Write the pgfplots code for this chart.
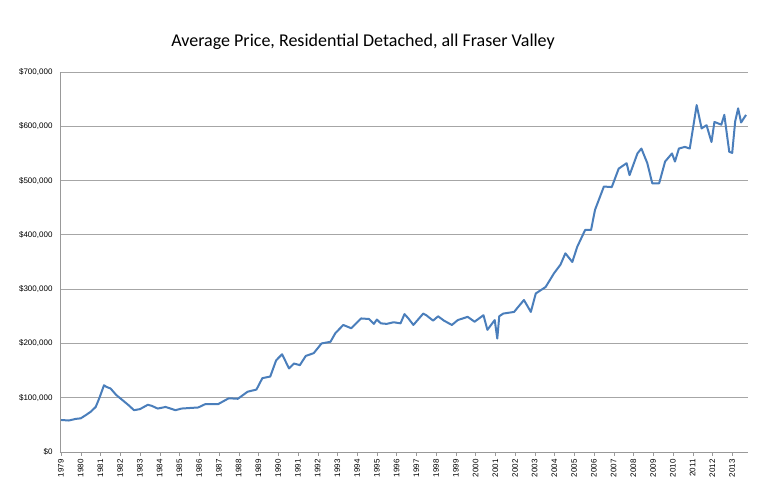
\documentclass[border=0pt]{standalone}
\usepackage{pgfplots}
\pgfplotsset{compat=1.18}
\usepackage{fontspec}
\setmainfont{Liberation Sans}
\newfontfamily\titlefont{Carlito}
\definecolor{ln}{RGB}{74,126,187}
\begin{document}
\begin{tikzpicture}
\begin{axis}[
  scale only axis, width=688pt, height=380pt,
  xmin=1978.95, xmax=2013.8, ymin=0, ymax=700000,
  scaled ticks=false, /pgf/number format/assume math mode=true,
  axis line style={gray!80},
  ytick={0,100000,...,700000},
  yticklabels={{\$0},{\$100,000},{\$200,000},{\$300,000},{\$400,000},{\$500,000},{\$600,000},{\$700,000}},
  xtick={1979,...,2013},
  xticklabel style={rotate=90, anchor=east, font=\fontsize{8}{9}\selectfont},
  yticklabel style={font=\fontsize{8}{9}\selectfont},
  xticklabel={\pgfmathprintnumber[1000 sep={},fixed,precision=0,assume math mode=true]{\tick}},
  minor x tick num=3,
  tick align=outside, tick style={gray!80}, ytick style={draw=none},
  major tick length=4pt, minor tick length=3pt,
  ymajorgrids, grid style={gray!70, line width=0.8pt},
  axis x line*=bottom, axis y line*=left,
  clip=false,
]
\addplot[ln, line width=2pt, line join=round] coordinates {
(1979.0,59000)(1979.4,58000)(1979.75,61000)(1980.0,62000)(1980.26,68000)(1980.5,74000)(1980.76,83000)(1980.95,100000)(1981.18,123000)(1981.3,120000)(1981.51,117000)(1981.8,105000)(1982.1,96000)(1982.4,87000)(1982.7,77000)(1983.0,79000)(1983.4,87000)(1983.6,85000)(1983.9,80000)(1984.3,83000)(1984.8,77000)(1985.1,80000)(1985.5,81000)(1985.95,82000)(1986.3,88000)(1986.95,88000)(1987.5,99000)(1987.96,98000)(1988.45,111000)(1988.9,115000)(1989.2,136000)(1989.6,139000)(1989.9,169000)(1990.2,180000)(1990.55,154000)(1990.8,163000)(1991.1,160000)(1991.4,177000)(1991.8,182000)(1992.2,200000)(1992.65,203000)(1992.9,219000)(1993.3,234000)(1993.7,228000)(1994.2,246000)(1994.6,245000)(1994.85,236000)(1995.0,244000)(1995.2,237000)(1995.5,236000)(1995.85,239000)(1996.2,237000)(1996.4,254000)(1996.6,246000)(1996.85,234000)(1997.35,255000)(1997.5,252000)(1997.85,242000)(1998.1,250000)(1998.4,242000)(1998.8,234000)(1999.1,243000)(1999.6,249000)(1999.95,240000)(2000.4,252000)(2000.6,225000)(2000.97,243000)(2001.1,209000)(2001.2,250000)(2001.4,255000)(2001.95,258000)(2002.45,280000)(2002.8,258000)(2003.05,292000)(2003.55,304000)(2003.97,329000)(2004.3,345000)(2004.55,366000)(2004.9,350000)(2005.15,378000)(2005.55,409000)(2005.85,409000)(2006.05,446000)(2006.5,489000)(2006.9,488000)(2007.25,522000)(2007.65,532000)(2007.8,510000)(2008.2,550000)(2008.4,559000)(2008.7,532000)(2008.95,495000)(2009.3,495000)(2009.6,535000)(2009.95,550000)(2010.1,535000)(2010.3,559000)(2010.6,562000)(2010.85,559000)(2011.2,639000)(2011.45,596000)(2011.7,602000)(2011.95,571000)(2012.1,608000)(2012.45,603000)(2012.6,621000)(2012.85,553000)(2013.0,551000)(2013.15,609000)(2013.3,633000)(2013.45,607000)(2013.7,621000)
};
\end{axis}
\node[font=\titlefont\fontsize{18}{20}\selectfont] at (303pt,410pt) {Average Price, Residential Detached, all Fraser Valley};
\pgfresetboundingbox
\path (-60pt,-43pt) rectangle (712pt,452pt);
\end{tikzpicture}
\end{document}
